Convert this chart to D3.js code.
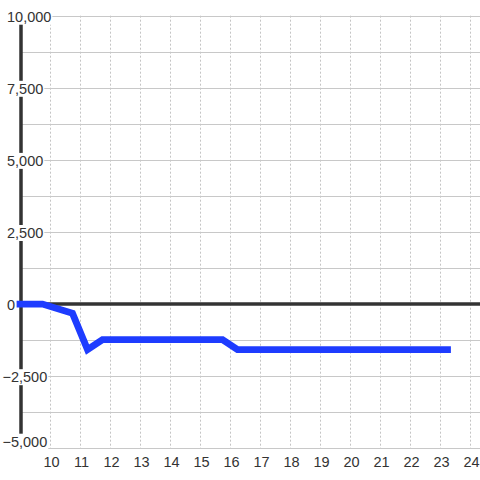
<!DOCTYPE html>
<html>
<head>
<meta charset="utf-8">
<script src="https://cdn.jsdelivr.net/npm/d3@7"></script>
<style>
  html, body { margin: 0; padding: 0; background: #fff; }
  svg { display: block; }
  text { font-family: "Liberation Sans", Arial, sans-serif; }
</style>
</head>
<body>
<svg id="chart" width="480" height="480"></svg>
<script>
// ---- data ----
const times = [9, 9.75, 10.75, 11.25, 11.75, 15.75, 16.25, 23.25];
const values = [0, 0, -320, -1580, -1230, -1230, -1580, -1580];
const xTickValues = [10, 11, 12, 13, 14, 15, 16, 17, 18, 19, 20, 21, 22, 23, 24];
const yGridValues = [-5000, -3750, -2500, -1250, 0, 1250, 2500, 3750, 5000, 6250, 7500, 8750, 10000];
const yLabelValues = [-5000, -2500, 0, 2500, 5000, 7500, 10000];

// ---- layout ----
const W = 480, H = 480;
const svg = d3.select("#chart");
const x = d3.scaleLinear().domain([9, 24 + 1 / 3]).range([20, 480]);
const y = d3.scaleLinear().domain([-5000, 10000]).range([448.3, 15.7]);
const fmt = d3.format(",");

svg.append("rect").attr("width", W).attr("height", H).attr("fill", "#fff");

// vertical dotted grid
svg.append("g").selectAll("line").data(xTickValues).join("line")
  .attr("x1", d => Math.round(x(d)) + 0.5).attr("x2", d => Math.round(x(d)) + 0.5)
  .attr("y1", y(10000)).attr("y2", y(-5000))
  .attr("stroke", "#c4c4c4").attr("stroke-width", 1)
  .attr("stroke-dasharray", "2,2");

// horizontal grid
svg.append("g").selectAll("line").data(yGridValues.filter(d => d !== 0)).join("line")
  .attr("x1", x(9)).attr("x2", W)
  .attr("y1", d => Math.round(y(d)) + 0.5).attr("y2", d => Math.round(y(d)) + 0.5)
  .attr("stroke", "#c8c8c8").attr("stroke-width", 1);

// zero line
svg.append("line")
  .attr("x1", x(9)).attr("x2", W)
  .attr("y1", y(0)).attr("y2", y(0))
  .attr("stroke", "#333").attr("stroke-width", 3.5);

// y axis line
svg.append("line")
  .attr("x1", x(9) + 1).attr("x2", x(9) + 1)
  .attr("y1", y(10000)).attr("y2", y(-5000))
  .attr("stroke", "#333").attr("stroke-width", 3.5);

// y labels with white backgrounds
const yl = svg.append("g");
yLabelValues.forEach(v => {
  const base = Math.min(y(v) + 6, 446.7);
  const t = yl.append("text")
    .attr("x", v < 0 ? 2.5 : 7)
    .attr("y", base)
    .attr("font-size", 14.5)
    .attr("fill", "#333")
    .text(fmt(v));
  const bb = t.node().getBBox();
  yl.insert("rect", "text")
    .attr("x", bb.x - 1).attr("y", bb.y)
    .attr("width", bb.width + 2).attr("height", bb.height)
    .attr("fill", "#fff");
});

// x labels
svg.append("g").selectAll("text").data(xTickValues).join("text")
  .attr("x", d => x(d) + 1.5)
  .attr("y", 466.7)
  .attr("text-anchor", "middle")
  .attr("font-size", 14.5)
  .attr("fill", "#333")
  .text(d => d);

// series line
const line = d3.line().x((d, i) => x(times[i])).y(d => y(d));
svg.append("path")
  .datum(values)
  .attr("d", line)
  .attr("fill", "none")
  .attr("stroke", "#1e3cff")
  .attr("stroke-width", 6.8)
  .attr("stroke-linecap", "square")
  .attr("stroke-linejoin", "miter");
</script>
</body>
</html>
